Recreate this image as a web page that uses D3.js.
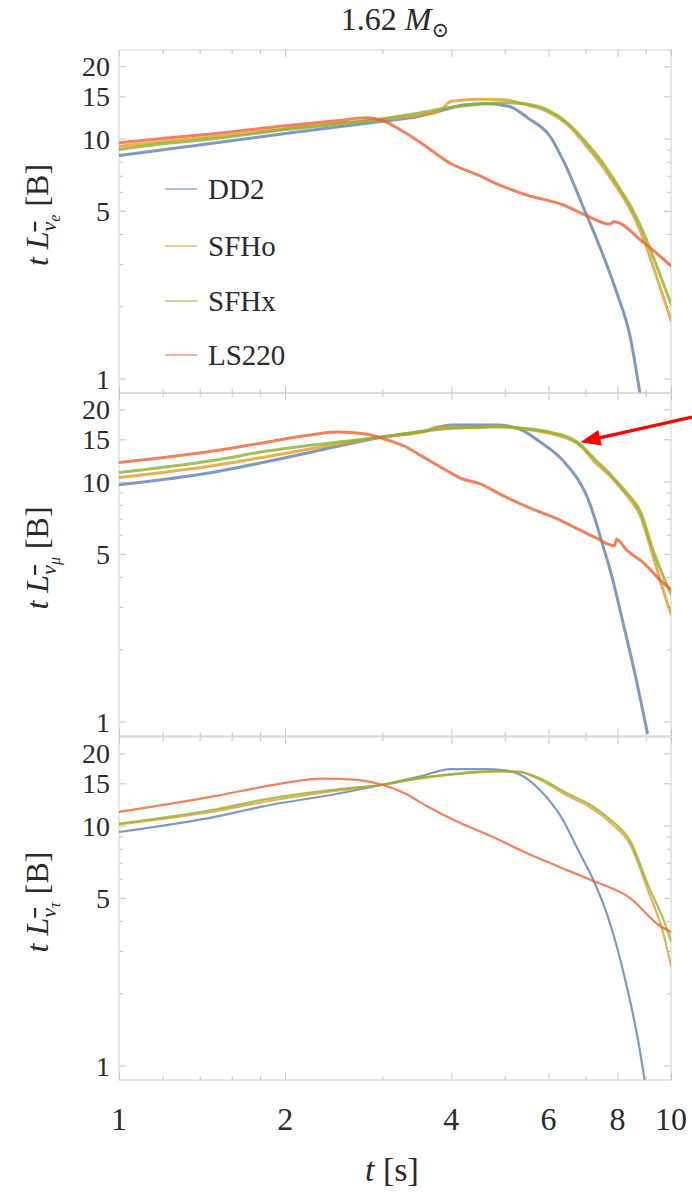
<!DOCTYPE html>
<meta charset="utf-8">
<style>
body { margin: 0; background: #fff; }
svg text { font-family: "Liberation Serif", "DejaVu Serif", "Times New Roman", Times, serif; fill: #2a2a2a; }
.frame { fill: none; stroke: #cfcfcf; stroke-width: 1px; }
.tick line { stroke: #c4c4c4; }
.line { fill: none; stroke-linejoin: round; stroke-linecap: round; }
</style>
<svg width="692" height="1193"></svg>
<script src="https://cdn.jsdelivr.net/npm/d3@7"></script>
<script>

// series names and colours
var names = ["DD2", "SFHo", "SFHx", "LS220"];
var colors = ["#5E81B5", "#E19C24", "#8FB032", "#EB6235"];

// anti electron neutrino, [t (s), t*L (B)]
var aeDD2 = [[1,8.5],[1.25,9.1],[1.5,9.6],[2,10.5],[2.5,11.2],[3,11.8],[3.5,12.4],[3.9,13.2],[4.2,13.8],[4.6,14.0],[5.1,13.6],[5.5,12.2],[6.04,10.2],[6.43,7.8],[6.93,5.2],[7.5,3.35],[7.98,2.27],[8.43,1.5],[8.79,0.86]];
var aeSFHo = [[1,9.3],[1.25,9.8],[1.5,10.2],[2,11.0],[2.5,11.6],[3,12.0],[3.5,12.5],[3.8,13.0],[4.0,14.3],[4.5,14.6],[5,14.5],[5.5,13.8],[6,12.9],[6.5,11.4],[7,9.4],[7.5,7.7],[8,6.2],[8.5,4.9],[9,3.6],[9.5,2.5],[10,1.75]];
var aeSFHx = [[1,9.0],[1.25,9.6],[1.5,10.0],[2,10.9],[2.5,11.5],[3,12.1],[3.5,12.8],[4,13.5],[4.5,13.9],[5,14.1],[5.5,13.9],[6,13.1],[6.5,11.6],[7,9.7],[7.5,8.0],[8,6.4],[8.5,5.1],[9,3.85],[9.5,2.8],[10,2.05]];
var aeLS220 = [[1,9.6],[1.25,10.1],[1.5,10.5],[2,11.3],[2.5,11.9],[2.8,12.2],[3,11.9],[3.25,10.8],[3.5,9.7],[4,7.85],[4.5,7.0],[4.9,6.4],[5.5,5.8],[6.37,5.3],[7,4.8],[7.75,4.4],[7.88,4.5],[8.9,3.7],[10,2.95]];

// anti muon neutrino
var amDD2 = [[1,9.7],[1.5,11.0],[1.85,12.1],[2.48,14.0],[3.04,15.4],[3.6,16.3],[4,17.2],[4.5,17.2],[4.84,17.2],[5.3,16.6],[5.8,14.6],[6.38,12.2],[7.14,8.0],[7.5,5.57],[7.82,4.0],[8.19,2.57],[8.67,1.46],[9.06,0.9]];
var amSFHo = [[1,10.4],[1.5,11.7],[1.85,12.7],[2.48,14.3],[3.04,15.4],[3.6,16.2],[3.75,16.9],[4.3,16.8],[4.84,17.0],[5.5,16.5],[5.94,16.0],[6.77,14.4],[7.3,12.0],[7.8,10.4],[8.3,8.8],[8.8,7.2],[9.3,4.8],[9.65,3.6],[10,2.8]];
var amSFHx = [[1,10.9],[1.5,12.3],[1.85,13.4],[2.48,14.6],[3.04,15.4],[3.6,16.3],[4.3,16.8],[4.84,16.9],[5.5,16.6],[5.94,16.2],[6.77,14.6],[7.3,12.3],[7.8,10.6],[8.3,9.0],[8.8,7.5],[9.3,5.1],[9.65,4.1],[10,3.4]];
var amLS220 = [[1,12.0],[1.48,13.4],[1.85,14.6],[2.2,15.6],[2.48,16.1],[2.8,15.8],[3.04,15.0],[3.3,14.0],[3.53,12.8],[3.9,11.2],[4.17,10.3],[4.5,9.8],[4.93,8.8],[5.6,7.7],[6.16,7.06],[7.3,5.84],[7.9,5.4],[7.97,5.75],[8.3,5.2],[8.9,4.6],[9.6,3.85],[10,3.55]];

// anti tau neutrino
var atDD2 = [[1,9.4],[1.5,10.9],[1.85,12.1],[2.5,13.6],[3,14.8],[3.5,16.0],[4,17.2],[4.6,17.2],[5,17.0],[5.3,16.4],[5.8,14.0],[6.38,10.5],[6.77,8.0],[7.24,5.9],[7.67,4.23],[8.33,2.1],[8.73,1.25],[8.95,0.88]];
var atSFHo = [[1,10.1],[1.5,11.5],[1.85,12.6],[2.5,14.0],[3,14.8],[3.5,15.7],[4,16.3],[4.84,16.8],[5.3,16.7],[5.8,15.5],[6.5,13.3],[7.1,12.0],[7.8,10.2],[8.42,8.4],[9.13,5.2],[9.67,3.6],[10,2.6]];
var atSFHx = [[1,10.2],[1.5,11.7],[1.85,12.9],[2.5,14.2],[3,14.8],[3.5,15.8],[4,16.4],[4.84,16.9],[5.3,16.8],[5.8,15.7],[6.5,13.6],[7.1,12.3],[7.8,10.5],[8.42,8.7],[9.13,5.5],[9.67,4.1],[10,3.3]];
var atLS220 = [[1,11.4],[1.5,13.3],[1.85,14.6],[2.35,15.7],[2.7,15.5],[3,14.8],[3.3,13.6],[3.6,12.1],[4.17,10.2],[4.74,9.0],[5.4,7.8],[6.2,6.8],[7.2,5.9],[8.42,5.0],[9.5,3.85],[10,3.6]];

var panelSeries = [
  [aeDD2, aeSFHo, aeSFHx, aeLS220],
  [amDD2, amSFHo, amSFHx, amLS220],
  [atDD2, atSFHo, atSFHx, atLS220]
];
var panelFlavour = ["e", "μ", "τ"];

var xTicks = [1, 2, 4, 6, 8, 10];
var xMinor = [1.2, 1.4, 1.6, 1.8, 3, 5, 7, 9];
var yTicks = [1, 5, 10, 15, 20];
var yMinor = [2, 3, 4, 6, 7, 8, 9];

var svg = d3.select("svg"),
    left = 119, right = 671,
    panelTop = [50, 393, 737],
    panelH = 343;

var x = d3.scaleLog().domain([1, 10]).range([left, right]);

var defs = svg.append("defs");

panelSeries.forEach(function(series, p) {
  var top = panelTop[p], bottom = top + panelH;
  var y = d3.scaleLog().domain([0.87, 23.4]).range([bottom, top]);

  var g = svg.append("g");

  // ticks on all four sides
  var axes = [
    d3.axisLeft(y).tickValues(yTicks).tickSize(-7),
    d3.axisRight(y).tickValues(yTicks).tickSize(-7),
    d3.axisBottom(x).tickValues(xTicks).tickSize(-7),
    d3.axisTop(x).tickValues(xTicks).tickSize(-7),
    d3.axisLeft(y).tickValues(yMinor).tickSize(-4),
    d3.axisRight(y).tickValues(yMinor).tickSize(-4),
    d3.axisBottom(x).tickValues(xMinor).tickSize(-4),
    d3.axisTop(x).tickValues(xMinor).tickSize(-4)
  ];
  var pos = ["translate(" + left + ",0)", "translate(" + right + ",0)",
             "translate(0," + bottom + ")", "translate(0," + top + ")"];
  axes.forEach(function(a, i) {
    var ax = g.append("g").attr("transform", pos[i % 4]).call(a.tickFormat(""));
    ax.select(".domain").remove();
  });

  g.append("rect").attr("class", "frame")
      .attr("x", left).attr("y", top)
      .attr("width", right - left).attr("height", panelH);

  // left tick labels
  g.selectAll(".ylab").data(yTicks).enter().append("text")
      .attr("x", 110)
      .attr("y", function(d) { return y(d); })
      .attr("dy", "0.36em")
      .attr("text-anchor", "end")
      .style("font-size", "28px")
      .text(function(d) { return d; });

  // rotated axis label
  var lab = g.append("text")
      .attr("transform", "translate(48," + (top + 165) + ") rotate(-90)")
      .attr("text-anchor", "middle")
      .style("font-size", "32px");
  lab.append("tspan").style("font-style", "italic").text("t L");
  lab.append("tspan").attr("dy", 8).style("font-size", "22px").style("font-style", "italic")
      .style("text-decoration", "overline").text("ν");
  lab.append("tspan").attr("dy", 4).style("font-size", "16px").style("font-style", "italic").text(panelFlavour[p]);
  lab.append("tspan").attr("dy", -12).text("  [B]");

  defs.append("clipPath").attr("id", "clip" + p)
    .append("rect").attr("x", left).attr("y", top).attr("width", right - left).attr("height", panelH);

  var line = d3.line()
      .curve(d3.curveMonotoneX)
      .x(function(d) { return x(d[0]); })
      .y(function(d) { return y(d[1]); });

  g.append("g").attr("clip-path", "url(#clip" + p + ")")
    .selectAll(".line").data(series).enter().append("path")
      .attr("class", "line")
      .attr("d", line)
      .style("stroke", function(d, i) { return colors[i]; })
      .style("stroke-opacity", 0.8)
      .style("stroke-width", p < 2 ? 3 : 2.2);

  if (p === 1) {
    // red arrow pointing at the SFHx curve
    var tipX = x(6.77) + 3, tipY = y(14.6);
    var tailX = 692, tailY = tipY - 25;
    var ang = Math.atan2(tipY - tailY, tipX - tailX);
    var L = 20, Wd = 8;
    svg.append("line")
        .attr("x1", tailX).attr("y1", tailY)
        .attr("x2", tipX - L * 0.8 * Math.cos(ang)).attr("y2", tipY - L * 0.8 * Math.sin(ang))
        .style("stroke", "#f00").style("stroke-width", 3.2);
    var bx = tipX - L * Math.cos(ang), by = tipY - L * Math.sin(ang);
    svg.append("path")
        .attr("d", "M" + tipX + "," + tipY +
                   "L" + (bx + Wd * Math.sin(ang)) + "," + (by - Wd * Math.cos(ang)) +
                   "L" + (bx - Wd * Math.sin(ang)) + "," + (by + Wd * Math.cos(ang)) + "Z")
        .style("fill", "#f00");
  }
});

// bottom tick labels
svg.selectAll(".xlab").data(xTicks).enter().append("text")
    .attr("x", function(d) { return x(d); })
    .attr("y", 1130)
    .attr("text-anchor", "middle")
    .style("font-size", "32px")
    .text(function(d) { return d; });

var xt = svg.append("text").attr("x", 392).attr("y", 1181)
    .attr("text-anchor", "middle").style("font-size", "34px");
xt.append("tspan").style("font-style", "italic").text("t");
xt.append("tspan").text(" [s]");

// title
var tt = svg.append("text").attr("x", 395).attr("y", 30)
    .attr("text-anchor", "middle").style("font-size", "32px");
tt.append("tspan").text("1.62 ");
tt.append("tspan").style("font-style", "italic").text("M");
tt.append("tspan").attr("dy", 7).style("font-size", "21px").text("⊙");

// legend
var legendY = [189, 246, 301, 355];
var leg = svg.selectAll(".legend").data(names).enter().append("g")
    .attr("transform", function(d, i) { return "translate(0," + legendY[i] + ")"; });
leg.append("line")
    .attr("x1", 165).attr("x2", 197)
    .style("stroke", function(d, i) { return colors[i]; })
    .style("stroke-opacity", 0.55)
    .style("stroke-width", 1.8);
leg.append("text")
    .attr("x", 208).attr("dy", "0.35em")
    .style("font-size", "29px")
    .text(function(d) { return d; });

</script>
